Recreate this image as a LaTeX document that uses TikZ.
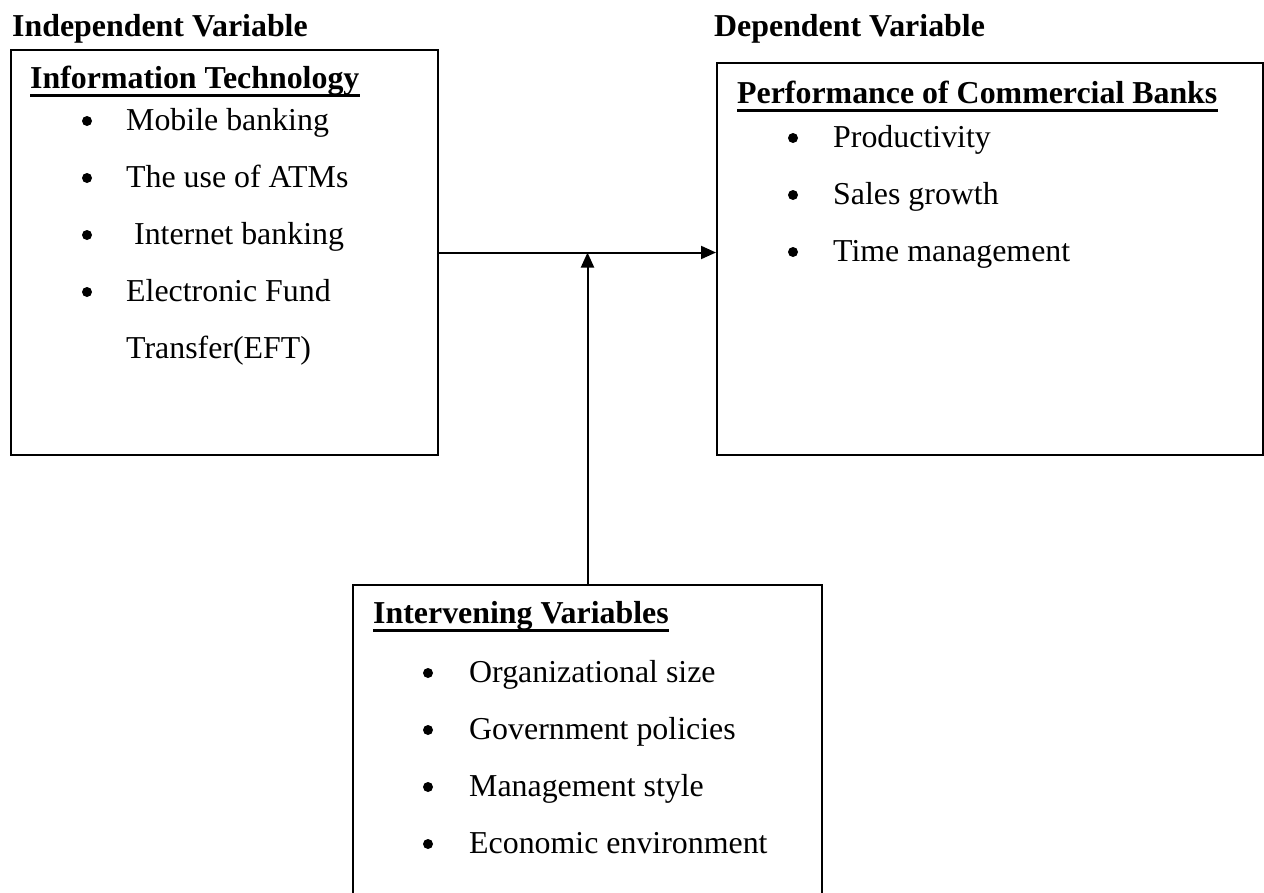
\documentclass[tikz,border=0pt]{standalone}
\usepackage{fontspec}
\setmainfont{Liberation Serif}
\usetikzlibrary{arrows.meta,calc}

\newcommand{\diagsize}{\fontsize{32}{38}\selectfont}

\tikzset{
  varbox/.style={draw, line width=2bp, anchor=north west, inner sep=0pt},
  heading/.style={font=\diagsize\bfseries, anchor=base west, inner sep=0pt},
  boxtitle/.style={font=\diagsize\bfseries, anchor=base west, inner sep=0pt},
  entry/.style={font=\diagsize, anchor=base west, inner sep=0pt},
  dot/.style={circle, fill, minimum size=10bp, inner sep=0pt},
  link/.style={line width=2bp, -{Triangle[length=15bp,width=13bp]}}
}

\begin{document}
\begin{tikzpicture}[x=1bp,y=-1bp]
\useasboundingbox (0,0) rectangle (1264,893);
\clip (0,0) rectangle (1264,893);

% the three boxes
\node[varbox, minimum width=427bp, minimum height=405bp] (itbox) at (10,49) {};
\node[varbox, minimum width=546bp, minimum height=392bp] (perfbox) at (716,62) {};
\node[varbox, minimum width=469bp, minimum height=380bp] (ivbox) at (352,584) {};

% headings
\node[heading] (indep) at (12,36) {Independent Variable};
\node[heading] (dep) at (714,36) {Dependent Variable};

% independent variable
\node[boxtitle] (ittitle) at (30,88) {Information Technology};
\draw[line width=3bp] ([yshift=-7bp]ittitle.base west) -- ([yshift=-7bp]ittitle.base east);
\node[entry] (i1) at (126,130) {Mobile banking};
\node[entry] (i2) at (126,187) {The use of ATMs};
\node[entry] (i3) at (126,244) {\ Internet banking};
\node[entry] (i4) at (126,301) {Electronic Fund};
\node[entry] (i5) at (126,358) {Transfer(EFT)};
\node[dot] (d1) at (87,121) {};
\node[dot] (d2) at (87,178) {};
\node[dot] (d3) at (87,235) {};
\node[dot] (d4) at (87,292) {};

% dependent variable
\node[boxtitle] (perftitle) at (737,103) {Performance of Commercial Banks};
\draw[line width=3bp] ([yshift=-7bp]perftitle.base west) -- ([yshift=-7bp]perftitle.base east);
\node[entry] (p1) at (833,147) {Productivity};
\node[entry] (p2) at (833,204) {Sales growth};
\node[entry] (p3) at (833,261) {Time management};
\node[dot] (p1d) at (793,138) {};
\node[dot] (p2d) at (793,195) {};
\node[dot] (p3d) at (793,252) {};

% intervening variables
\node[boxtitle] (ivtitle) at (373,623) {Intervening Variables};
\draw[line width=3bp] ([yshift=-7bp]ivtitle.base west) -- ([yshift=-7bp]ivtitle.base east);
\node[entry] (v1) at (469,682) {Organizational size};
\node[entry] (v2) at (469,739) {Government policies};
\node[entry] (v3) at (469,796) {Management style};
\node[entry] (v4) at (469,853) {Economic environment};
\node[dot] (v1d) at (428,673) {};
\node[dot] (v2d) at (428,730) {};
\node[dot] (v3d) at (428,787) {};
\node[dot] (v4d) at (428,844) {};

% arrows
\draw[link] (itbox.east) -- (itbox.east -| perfbox.west);
\draw[link] (ivbox.north) -- (ivbox.north |- itbox.east);

\end{tikzpicture}
\end{document}
